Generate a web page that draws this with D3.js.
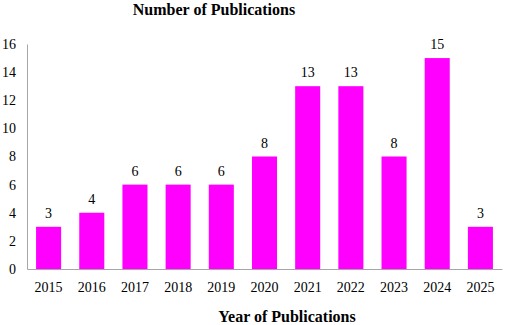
<!DOCTYPE html>
<html>
<head>
<meta charset="utf-8">
<script src="https://cdn.jsdelivr.net/npm/d3@7"></script>
<style>
  body { margin: 0; background: #fff; }
  text { font-family: "Liberation Serif", "Times New Roman", serif; fill: #000; }
</style>
</head>
<body>
<div id="chart"></div>
<script>
// data
var years = ['2015','2016','2017','2018','2019','2020','2021','2022','2023','2024','2025'];
var counts = [3, 4, 6, 6, 6, 8, 13, 13, 8, 15, 3];
var yTicks = [0, 2, 4, 6, 8, 10, 12, 14, 16];

var W = 505, H = 325;
var margin = {top: 44, right: 3, bottom: 56, left: 27};
var width = W - margin.left - margin.right,
    height = H - margin.top - margin.bottom;

var svg = d3.select('#chart').append('svg')
    .attr('width', W)
    .attr('height', H);

var g = svg.append('g')
    .attr('transform', 'translate(' + margin.left + ',' + margin.top + ')');

var x = d3.scaleBand()
    .domain(years)
    .range([0, width])
    .paddingInner(0.42)
    .paddingOuter(0.21);

var y = d3.scaleLinear()
    .domain([0, 16])
    .range([height, 0]);

// y axis: line only, labels on the left
var yAxis = g.append('g')
    .call(d3.axisLeft(y).tickValues(yTicks).tickSize(0).tickPadding(11));
yAxis.select('.domain').attr('stroke', '#a6a6a6');
yAxis.selectAll('text').style('font-size', '14px').style('font-family', '"Liberation Serif", serif');

var bars = g.selectAll('rect.bar')
    .data(counts)
  .enter().append('rect')
    .attr('class', 'bar')
    .attr('x', function(d, i) { return x(years[i]); })
    .attr('y', function(d) { return y(d); })
    .attr('width', x.bandwidth())
    .attr('height', function(d) { return height - y(d); })
    .attr('fill', '#ff00ff');

// value labels
g.selectAll('text.val')
    .data(counts)
  .enter().append('text')
    .attr('class', 'val')
    .attr('x', function(d, i) { return x(years[i]) + x.bandwidth() / 2; })
    .attr('y', function(d) { return y(d) - 9; })
    .attr('text-anchor', 'middle')
    .style('font-size', '14px')
    .text(function(d) { return d; });

// x axis
var xAxis = g.append('g')
    .attr('transform', 'translate(0,' + height + ')')
    .call(d3.axisBottom(x).tickSize(0).tickPadding(13));
xAxis.select('.domain').attr('stroke', '#a6a6a6');
xAxis.selectAll('text').style('font-size', '14px').style('font-family', '"Liberation Serif", serif');

// titles
svg.append('text')
    .attr('x', 214)
    .attr('y', 15)
    .attr('text-anchor', 'middle')
    .style('font-size', '16px')
    .style('font-weight', 'bold')
    .text('Number of Publications');

svg.append('text')
    .attr('x', 287)
    .attr('y', 322)
    .attr('text-anchor', 'middle')
    .style('font-size', '16px')
    .style('font-weight', 'bold')
    .text('Year of Publications');
</script>
</body>
</html>
